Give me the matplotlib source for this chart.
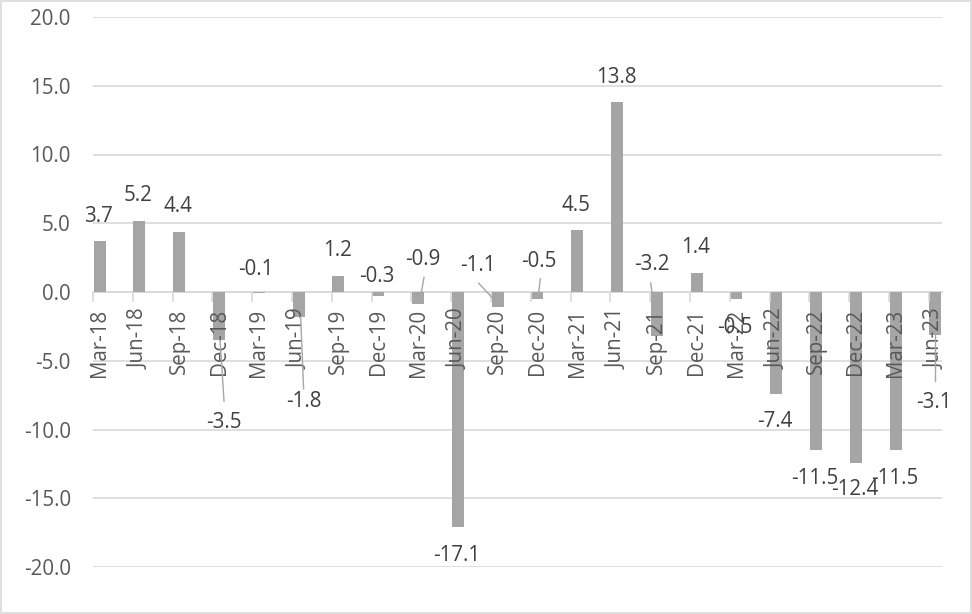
import matplotlib.pyplot as plt
from matplotlib.patches import Rectangle

quarters = ['Mar-18', 'Jun-18', 'Sep-18', 'Dec-18', 'Mar-19', 'Jun-19',
            'Sep-19', 'Dec-19', 'Mar-20', 'Jun-20', 'Sep-20', 'Dec-20',
            'Mar-21', 'Jun-21', 'Sep-21', 'Dec-21', 'Mar-22', 'Jun-22',
            'Sep-22', 'Dec-22', 'Mar-23', 'Jun-23']
growth = [3.7, 5.2, 4.4, -3.5, -0.1, -1.8, 1.2, -0.3, -0.9, -17.1, -1.1,
          -0.5, 4.5, 13.8, -3.2, 1.4, -0.5, -7.4, -11.5, -12.4, -11.5, -3.1]
y_ticks = [-20, -15, -10, -5, 0, 5, 10, 15, 20]

# label offsets in pixels from the end of each bar (dx, dy; dy up)
label_offsets = {3: (5, -82), 4: (-3, 24), 5: (5, -85), 7: (-1, 20),
                 8: (5, 45), 10: (-20, 42), 11: (1, 37), 14: (-5, 72),
                 16: (-2, -29), 19: (-1, -27), 21: (-1, -68)}
# leader lines: start and end offsets in pixels from the bar end
leaders = {3: ((1, 0), (5, -61)), 5: ((2, 0), (5, -72)),
           8: ((3, 10), (6, 27)), 10: ((-5, 9), (-19, 24)),
           11: ((1, 5), (3, 20)), 14: ((-4, 38), (-6, 53)),
           21: ((0, 0), (0, -46))}

plt.rcParams['font.family'] = ['Open Sans', 'DejaVu Sans']
FS = 14.8

fig = plt.figure(figsize=(9.72, 6.14), dpi=100)
ax = fig.add_axes([93 / 972, 47 / 614, 849 / 972, 550 / 614])

# date-style axis: one unit per month, one bar per quarter
xs = [3 * i for i in range(len(quarters))]
ax.bar(xs, growth, width=0.9, color='#a5a5a5', zorder=2)

ax.set_yticks(y_ticks)
ax.set_yticklabels(['%.1f' % v for v in y_ticks])
# gridlines behind the bars, axis text in front of them
for v in y_ticks:
    ax.axhline(v, color='#d9d9d9', linewidth=1.2, zorder=0.5)
ax.set_axisbelow(False)

for s in ['top', 'right', 'left']:
    ax.spines[s].set_visible(False)
# category axis crosses at zero
ax.spines['bottom'].set_position(('data', 0))
ax.spines['bottom'].set_color('#d9d9d9')
ax.spines['bottom'].set_linewidth(1.2)
ax.spines['bottom'].set_zorder(1)

ax.set_xticks(xs)
ax.set_xticklabels(quarters, rotation=90)
ax.set_xticks([x - 0.5 for x in xs], minor=True)
ax.tick_params(axis='x', which='major', length=0, pad=12,
               labelsize=FS, labelcolor='#595959')
ax.tick_params(axis='x', which='minor', length=7, width=1.2,
               color='#d9d9d9', direction='out')
ax.tick_params(axis='y', length=0, pad=16, labelsize=FS,
               labelcolor='#595959')
ax.set_xlim(-0.5, 63.5)
ax.set_ylim(-20, 20)


def offset_pt(x, v, dx, dy):
    px, py = ax.transData.transform((x, v))
    return ax.transData.inverted().transform((px + dx, py + dy))


for i, (x, v) in enumerate(zip(xs, growth)):
    if i in label_offsets:
        dx, dy = label_offsets[i]
    elif v >= 0:
        dx, dy = -1, 25
    else:
        dx, dy = -1, -28
    lx, ly = offset_pt(x, v, dx, dy)
    ax.text(lx, ly, '%.1f' % v, ha='center', va='center', fontsize=FS,
            color='#404040', zorder=4)
    if i in leaders:
        (x1, y1), (x2, y2) = leaders[i]
        a = offset_pt(x, v, x1, y1)
        b = offset_pt(x, v, x2, y2)
        ax.plot([a[0], b[0]], [a[1], b[1]], color='#a6a6a6',
                linewidth=1, zorder=3)

fig.patches.append(Rectangle((0.001, 0.001), 0.998, 0.997,
                             transform=fig.transFigure, fill=False,
                             edgecolor='#d9d9d9', linewidth=1.2))

fig.savefig('out.png', dpi=100)
